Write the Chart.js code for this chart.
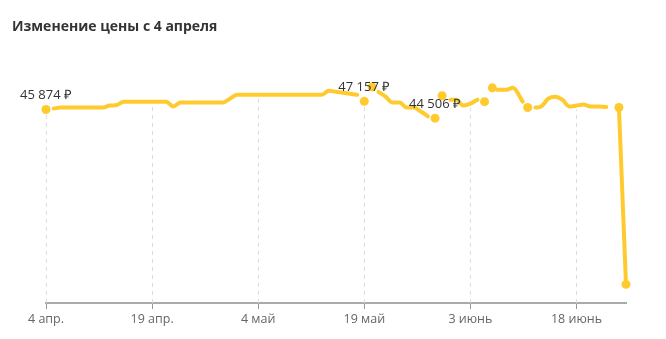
<!DOCTYPE html>
<html lang="ru">
<head>
<meta charset="UTF-8">
<title>Изменение цены</title>
<script src="https://cdn.jsdelivr.net/npm/chart.js@4"></script>
<style>
    body{
        margin: 0;
        background: #fff;
    }
    .wrap{
        position: relative;
        width: 666px;
        height: 339px;
    }
    .titulo{
        position: absolute;
        left: 12px;
        top: 17px;
        font-family: 'Open Sans', sans-serif;
        font-weight: 700;
        font-size: 14px;
        line-height: 17px;
        color: #333;
    }
    canvas{
        position: absolute;
        left: 0;
        top: 0;
    }
</style>
</head>
<body>
<div class="wrap">
    <canvas id="grafico" width="666" height="339"></canvas>
    <div class="titulo">Изменение цены с 4 апреля</div>
</div>
<script>
// days since 4 April, null = break in the line
const days = [0, 0.5, 1.1, 2, 3, 4, 5, 6, 7, 8, 9, 10, 11, 12, 13, 14, 15, 16, 17, 18, 19, 20, 21, 22, 23, 24, 25, 26,
    27, 28, 29, 30, 31, 32, 33, 34, 35, 36, 37, 38, 39, 40, 41, 42, 43, 44, 44.5, 45, 45.5, 46.1, 46.6,
    47, 48, 49, 50, 51, 52, 53, 54, 54.5, 55, 55.5, 56, 56.6, 57.2, 58, 59, 60, 61, 61.5, 62, 62.5, 63.1, 63.5,
    63.8, 65, 66, 67.4, 67.8, 68.1, 68.6, 69.2, 70, 71, 72, 73, 74, 75, 76, 77, 78, 79.2, 80, 81, 82];
const prices = [45874, null, 46030, 46180, 46180, 46180, 46180, 46180, 46180, 46180, 46490, 46570, 47110, 47110, 47110, 47110, 47110, 47110, 47110, 46340, 46960, 46960, 46960, 46960, 46960, 46960, 46960, 47580,
    48200, 48200, 48200, 48200, 48200, 48200, 48200, 48200, 48200, 48200, 48200, 48200, 48200, 48820, 48660, 48510, 48350, 48200, null, 47157, null, 49440, null,
    48660, 47890, 46960, 46960, 46180, 46180, 45560, 44790, null, 44506, null, 48040, null, 47420, 47420, 46490, 46800, 47420, null, 47110, null, 49290, null,
    48970, 48970, 49290, 47110, null, 46180, null, 46180, 46340, 47580, 47890, 47420, 46340, 46490, 46650, 46340, 46340, 46260, null, 46180, 18280];

const tickDays = [0, 15, 30, 45, 60, 75];
const tickLabels = ['4 апр.', '19 апр.', '4 май', '19 май', '3 июнь', '18 июнь'];
const labelDays = [0, 45, 55];

const amarelo = 'rgb(255, 202, 46)';

function formatPrice(v) {
    return String(v).replace(/\B(?=(\d{3})+(?!\d))/g, ' ') + ' ₽';
}

function temPonto(ctx) {
    const i = ctx.dataIndex;
    if (prices[i] === null) return 0;
    const antes = i === 0 || prices[i - 1] === null;
    const depois = i === prices.length - 1 || prices[i + 1] === null;
    if ((antes && depois) || i >= prices.length - 2) return 4.5;
    return 0;
}

// vertical dashed lines only below the price line
const gradeSobLinha = {
    id: 'gradeSobLinha',
    beforeDatasetsDraw(chart) {
        const {ctx, chartArea} = chart;
        const x = chart.scales.x;
        const y = chart.scales.y;
        ctx.save();
        ctx.strokeStyle = '#dcdcdc';
        ctx.lineWidth = 1;
        ctx.setLineDash([4, 4]);
        tickDays.forEach((d) => {
            const px = Math.round(x.getPixelForValue(d)) + 0.5;
            const topo = y.getPixelForValue(prices[days.indexOf(d)]) + 4;
            ctx.beginPath();
            ctx.moveTo(px, chartArea.bottom);
            ctx.lineTo(px, topo);
            ctx.stroke();
        });
        ctx.restore();
    }
};

const rotulos = {
    id: 'rotulos',
    afterDatasetsDraw(chart) {
        const ctx = chart.ctx;
        const meta = chart.getDatasetMeta(0);
        ctx.save();
        ctx.font = '13px "Open Sans"';
        ctx.fillStyle = '#333';
        ctx.textAlign = 'center';
        ctx.textBaseline = 'alphabetic';
        labelDays.forEach((d) => {
            const i = days.indexOf(d);
            const pt = meta.data[i];
            ctx.fillText(formatPrice(prices[i]), pt.x, pt.y - 10);
        });
        ctx.restore();
    }
};

Chart.defaults.font.family = "'Open Sans', sans-serif";

let grafico = new Chart(document.getElementById('grafico'), {
    type: 'line',
    data: {
        datasets: [{
            data: days.map((d, i) => ({x: d, y: prices[i]})),
            borderColor: amarelo,
            backgroundColor: amarelo,
            borderWidth: 4,
            borderCapStyle: 'round',
            borderJoinStyle: 'round',
            cubicInterpolationMode: 'monotone',
            spanGaps: false,
            clip: false,
            pointRadius: temPonto,
            pointBorderWidth: 0,
            pointBackgroundColor: amarelo
        }]
    },
    options: {
        responsive: false,
        animation: false,
        events: [],
        layout: {
            padding: {left: 46, right: 40, top: 80, bottom: 9}
        },
        plugins: {
            legend: {display: false},
            tooltip: {enabled: false}
        },
        scales: {
            x: {
                type: 'linear',
                min: 0,
                max: 82,
                afterBuildTicks: (s) => { s.ticks = tickDays.map((v) => ({value: v})); },
                grid: {
                    drawOnChartArea: false,
                    tickLength: 6,
                    tickColor: '#999',
                    tickWidth: 1
                },
                border: {
                    display: true,
                    color: '#aaa',
                    width: 2
                },
                ticks: {
                    padding: 3,
                    color: '#666',
                    font: {size: 12.5},
                    maxRotation: 0,
                    callback: (v) => tickLabels[tickDays.indexOf(v)]
                }
            },
            y: {
                display: false,
                min: 15340,
                max: 50525
            }
        }
    },
    plugins: [gradeSobLinha, rotulos]
});
</script>
</body>
</html>
